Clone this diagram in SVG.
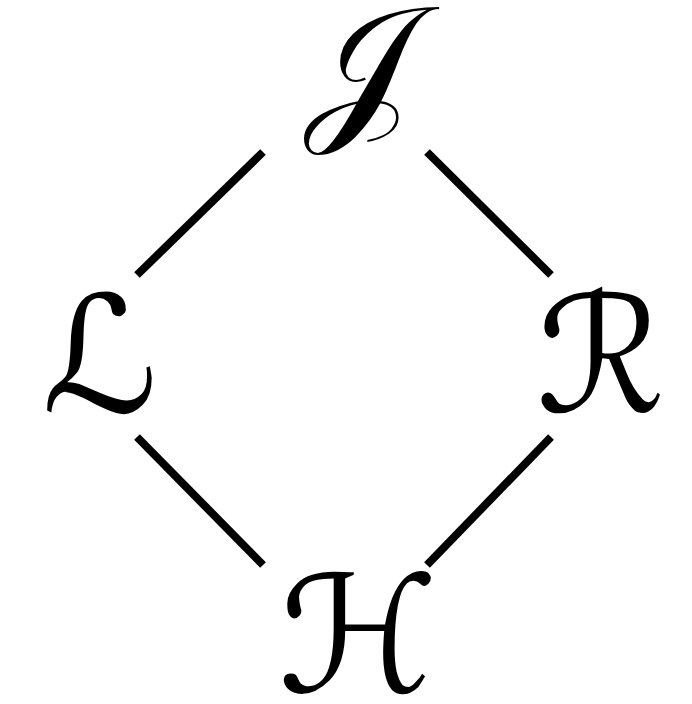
<svg xmlns="http://www.w3.org/2000/svg" width="692" height="704" viewBox="0 0 692 704">
<style>
.lbl{font-family:"DejaVu Serif","DejaVu Sans","Noto Sans",serif;font-size:162px;fill:#000;text-anchor:middle}
.edge{stroke:#000;stroke-width:8;fill:none}
</style>
<rect width="692" height="704" fill="#fff"/>
<g id="edges">
<line class="edge" x1="263" y1="152" x2="137" y2="275"/>
<line class="edge" x1="427" y1="152" x2="551" y2="275"/>
<line class="edge" x1="137" y1="437" x2="263" y2="565"/>
<line class="edge" x1="551" y1="437" x2="427" y2="565"/>
</g>
<g id="J"><text class="lbl" x="360" y="120">𝒥</text></g>
<g id="L"><text class="lbl" x="100" y="412">ℒ</text></g>
<g id="R"><text class="lbl" x="601" y="412">ℛ</text></g>
<g id="H"><text class="lbl" x="358" y="692">ℋ</text></g>
</svg>
